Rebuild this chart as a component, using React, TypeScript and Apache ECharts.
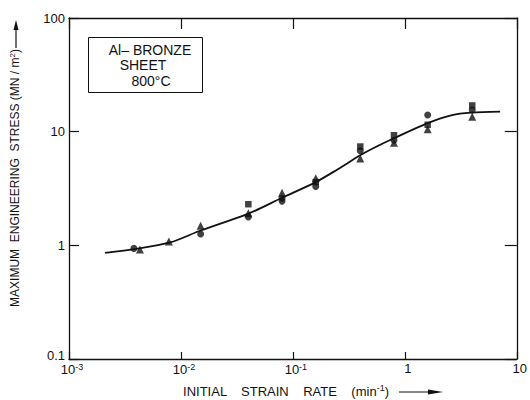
import React, { useEffect, useRef } from "react";
import * as echarts from "echarts";

const curveX = [0.0021, 0.004, 0.008, 0.015, 0.04, 0.08, 0.16, 0.25, 0.4, 0.56, 0.8, 1.6, 2.65, 3.9, 7.1];
const curveY = [0.86, 0.93, 1.06, 1.35, 1.9, 2.62, 3.6, 4.65, 6.2, 7.4, 8.75, 11.9, 14.0, 14.7, 15.0];

const circleX = [0.0038, 0.015, 0.04, 0.08, 0.08, 0.16, 0.4, 0.8, 1.6, 4];
const circleY = [0.94, 1.26, 1.78, 2.45, 2.6, 3.3, 6.8, 8.4, 14.0, 15.5];

const triangleX = [0.0043, 0.0078, 0.015, 0.04, 0.08, 0.16, 0.4, 0.8, 1.6, 4];
const triangleY = [0.92, 1.08, 1.49, 1.92, 2.9, 3.9, 5.8, 8.0, 10.5, 13.5];

const squareX = [0.04, 0.16, 0.4, 0.8, 1.6, 4];
const squareY = [2.3, 3.6, 7.4, 9.3, 11.5, 17.0];

const xMin = 0.001;
const xMax = 10;
const yMin = 0.1;
const yMax = 100;

const boxLines = ["Al\u2013 BRONZE", "SHEET", "800\u00B0C"];
const yTitle = "MAXIMUM  ENGINEERING  STRESS (MN / m";
const xTitleWords = "INITIAL    STRAIN    RATE    (min";

const FONT = "'Liberation Sans', Arial, sans-serif";
const INK = "#111";

const pairs = (xs: number[], ys: number[]) => xs.map((x, i) => [x, ys[i]]);

export default function App() {
  const ref = useRef<HTMLDivElement>(null);
  useEffect(() => {
    if (!ref.current) return;
    const chart = echarts.init(ref.current, null, { renderer: "svg" });
    const axisLine = { lineStyle: { color: INK, width: 1.3 } };
    const xLabelFmt = (v: number) => {
      const e = Math.round(Math.log10(v));
      if (e === 0) return "1";
      if (e === 1) return "10";
      return "{b|10}{s|" + e + "}";
    };
    const txt = (x: number, y: number, text: string, size: number) => ({
      type: "text",
      x,
      y,
      style: {
        text,
        font: size + "px " + FONT,
        fill: INK,
        align: "center",
        verticalAlign: "middle",
        textAlign: "center",
        textVerticalAlign: "middle",
      },
    });
    chart.setOption({
      animation: false,
      backgroundColor: "#fff",
      grid: { left: 69, right: 8, top: 18, bottom: 41, containLabel: false },
      xAxis: [
        {
          type: "log",
          logBase: 10,
          min: xMin,
          max: xMax,
          position: "bottom",
          axisLine,
          axisTick: { inside: true, length: 7, lineStyle: { color: INK, width: 1.2 } },
          minorTick: { show: false },
          splitLine: { show: false },
          axisLabel: {
            margin: 3,
            formatter: xLabelFmt,
            color: INK,
            fontFamily: FONT,
            fontSize: 13,
            padding: [0, 0, 0, 6],
            rich: {
              b: { fontSize: 13, fontFamily: FONT, color: INK },
              s: { fontSize: 9, fontFamily: FONT, color: INK, verticalAlign: "top", padding: [0, 0, 6, 0] },
            },
          },
        },
        {
          type: "log",
          logBase: 10,
          min: xMin,
          max: xMax,
          position: "top",
          axisLine,
          axisTick: { inside: true, length: 11, lineStyle: { color: INK, width: 1.2 } },
          splitLine: { show: false },
          axisLabel: { show: false },
        },
      ],
      yAxis: [
        {
          type: "log",
          logBase: 10,
          min: yMin,
          max: yMax,
          position: "left",
          axisLine,
          axisTick: { inside: true, length: 10, lineStyle: { color: INK, width: 1.2 } },
          splitLine: { show: false },
          axisLabel: {
            margin: 4,
            color: INK,
            fontFamily: FONT,
            fontSize: 13,
            formatter: (v: number) => (v >= 1 ? String(Math.round(v)) : "{u|0.1}"),
            rich: { u: { fontSize: 13, fontFamily: FONT, color: INK, padding: [0, 0, 8, 0] } },
          },
        },
        {
          type: "log",
          logBase: 10,
          min: yMin,
          max: yMax,
          position: "right",
          axisLine,
          axisTick: { inside: true, length: 12, lineStyle: { color: INK, width: 1.2 } },
          splitLine: { show: false },
          axisLabel: { show: false },
        },
      ],
      series: [
        {
          type: "line",
          data: pairs(curveX, curveY),
          smooth: 0.3,
          symbol: "none",
          lineStyle: { color: INK, width: 1.8 },
          z: 1,
        },
        {
          type: "scatter",
          data: pairs(circleX, circleY),
          symbol: "circle",
          symbolSize: 7,
          itemStyle: { color: INK },
          z: 3,
        },
        {
          type: "scatter",
          data: pairs(triangleX, triangleY),
          symbol: "triangle",
          symbolSize: 8,
          itemStyle: { color: INK },
          z: 3,
        },
        {
          type: "scatter",
          data: pairs(squareX, squareY),
          symbol: "rect",
          symbolSize: 6.5,
          itemStyle: { color: INK },
          z: 3,
        },
      ],
      graphic: [
        {
          type: "rect",
          shape: { x: 88.5, y: 37.5, width: 114, height: 55 },
          style: { fill: "none", stroke: INK, lineWidth: 1 },
        },
        txt(150, 50, boxLines[0], 14),
        txt(143, 65, boxLines[1], 14),
        txt(151, 81, boxLines[2], 14),
        {
          type: "text",
          x: 15,
          y: 178,
          rotation: Math.PI / 2,
          style: {
            text: yTitle + "{s|2})",
            font: "12px " + FONT,
            fill: INK,
            align: "center",
            verticalAlign: "middle",
            textAlign: "center",
            textVerticalAlign: "middle",
            rich: { s: { fontSize: 8, fontFamily: FONT, fill: INK, verticalAlign: "top", padding: [0, 0, 6, 0] } },
          },
        },
        {
          type: "line",
          shape: { x1: 16, y1: 48, x2: 16, y2: 24 },
          style: { stroke: INK, lineWidth: 1.2 },
        },
        {
          type: "polygon",
          shape: { points: [[16, 20], [13.5, 30], [18.5, 30]] },
          style: { fill: INK },
        },
        {
          type: "text",
          x: 286,
          y: 391,
          style: {
            text: xTitleWords + "{s|-1})",
            font: "13px " + FONT,
            fill: INK,
            align: "center",
            verticalAlign: "middle",
            textAlign: "center",
            textVerticalAlign: "middle",
            rich: { s: { fontSize: 9, fontFamily: FONT, fill: INK, verticalAlign: "top", padding: [0, 0, 6, 0] } },
          },
        },
        {
          type: "line",
          shape: { x1: 399, y1: 392, x2: 438, y2: 392 },
          style: { stroke: INK, lineWidth: 1.2 },
        },
        {
          type: "polygon",
          shape: { points: [[443, 392], [428, 389.5], [428, 394.5]] },
          style: { fill: INK },
        },
      ],
    });
    return () => chart.dispose();
  }, []);
  return (
    <div
      ref={ref}
      style={{ position: "absolute", left: 0, top: 0, width: 530, height: 400, background: "#fff" }}
    />
  );
}
